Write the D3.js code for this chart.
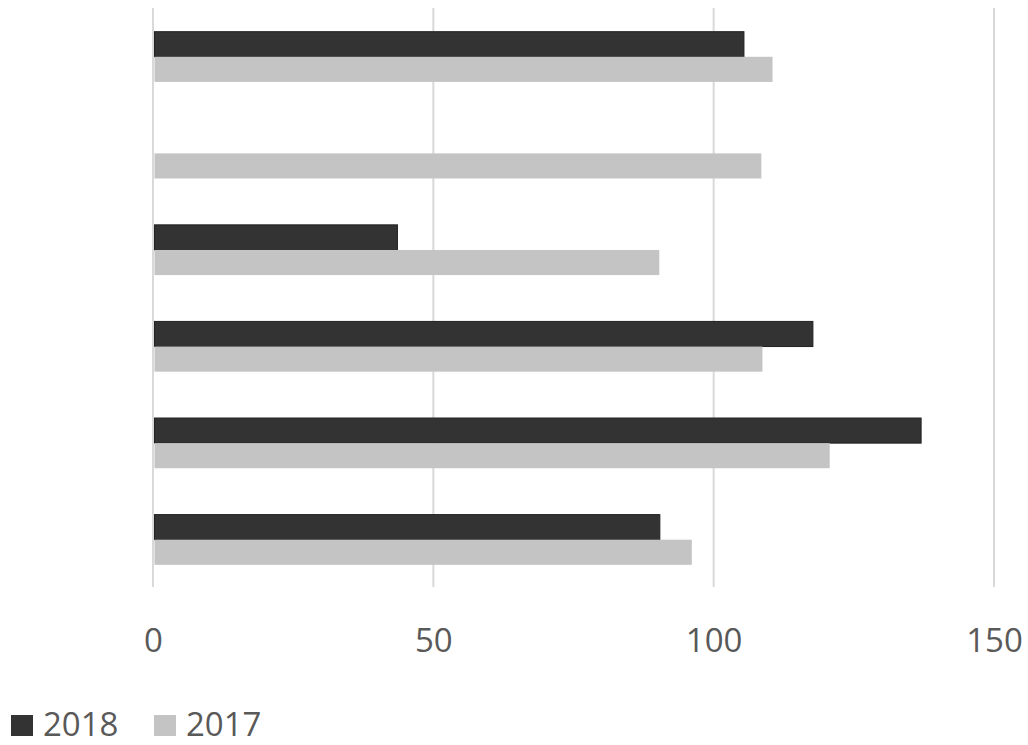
<!DOCTYPE html>
<html>
<head>
<meta charset="utf-8">
<script src="https://cdn.jsdelivr.net/npm/d3@7"></script>
<style>
  body { margin: 0; background: #fff; }
  text { font-family: "Open Sans", sans-serif; }
</style>
</head>
<body>
<svg id="chart" width="1028" height="745"></svg>
<script>
const svg = d3.select("#chart");

// data (no category labels are shown)
const categories = ["A", "B", "C", "D", "E", "F"];
const series = ["2018", "2017"];
const values2018 = [105.4, null, 43.6, 117.7, 137.0, 90.4];
const values2017 = [110.5, 108.5, 90.3, 108.7, 120.7, 96.1];
const xTicks = [0, 50, 100, 150];
const colors = ["#333333", "#c4c4c4"];

const x = d3.scaleLinear().domain([0, 150]).range([153, 994]);
const y = d3.scaleBand().domain(categories).range([8.5, 588]).paddingInner(0.48).paddingOuter(0.24);
const ySub = d3.scaleBand().domain(series).range([0, y.bandwidth()]);

// gridlines
svg.append("g").selectAll("line")
    .data(xTicks)
    .enter().append("line")
    .attr("x1", d => x(d)).attr("x2", d => x(d))
    .attr("y1", 8).attr("y2", 587)
    .attr("stroke", "#d9d9d9")
    .attr("stroke-width", 2);

// tick labels
const axis = svg.append("g")
    .attr("transform", "translate(0,652)")
    .call(d3.axisBottom(x).tickValues(xTicks).tickSize(0).tickPadding(0));
axis.select(".domain").remove();
axis.selectAll("text")
    .attr("dy", 0)
    .attr("font-size", 33)
    .attr("fill", "#595959");

// bars
const rows = categories.map((c, i) => ({ cat: c, vals: [values2018[i], values2017[i]] }));
const groups = svg.append("g").selectAll("g")
    .data(rows)
    .enter().append("g")
    .attr("transform", d => `translate(0,${y(d.cat)})`);

groups.selectAll("rect")
    .data(d => d.vals.map((v, j) => ({ key: series[j], v: v, j: j })).filter(d => d.v != null))
    .enter().append("rect")
    .attr("x", x(0) + 1.5)
    .attr("y", d => ySub(d.key))
    .attr("width", d => x(d.v) - x(0) - 1.5)
    .attr("height", ySub.bandwidth())
    .attr("fill", d => colors[d.j])
    .attr("stroke", d => d.j === 0 ? "#222" : "none")
    .attr("stroke-width", 1);

// legend (kept just inside the bottom edge)
const legendX = [11, 154];
const legend = svg.append("g").selectAll("g")
    .data(series)
    .enter().append("g")
    .attr("transform", (d, i) => `translate(${legendX[i]},715)`);

legend.append("rect")
    .attr("width", 22).attr("height", 21)
    .attr("fill", (d, i) => colors[i]);

legend.append("text")
    .attr("x", 32).attr("y", 21)
    .attr("font-size", 33)
    .attr("fill", "#595959")
    .text(d => d);
</script>
</body>
</html>
